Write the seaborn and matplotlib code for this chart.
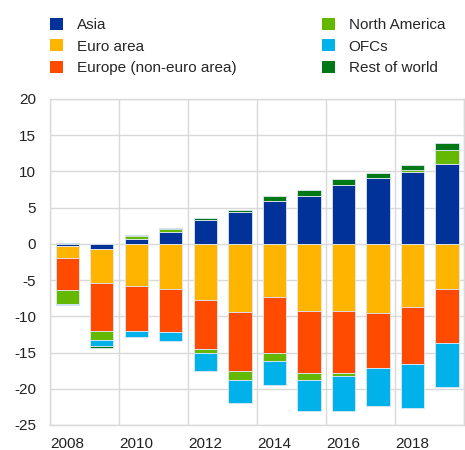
import numpy as np
import pandas as pd
import seaborn as sns
import matplotlib.pyplot as plt
from matplotlib.patches import Patch

years = [str(y) for y in range(2008, 2020)]
asia = [-0.3, -0.75, 0.65, 1.6, 3.35, 4.4, 5.95, 6.65, 8.1, 9.1, 9.95, 11.05]
euro_area = [-1.7, -4.7, -5.8, -6.25, -7.75, -9.35, -7.4, -9.3, -9.3, -9.5, -8.65, -6.2]
europe_non_euro = [-4.3, -6.6, -6.2, -5.85, -6.75, -8.15, -7.6, -8.55, -8.55, -7.65, -7.9, -7.5]
north_america = [-2.0, -1.15, 0.5, 0.4, -0.5, -1.3, -1.15, -0.95, -0.45, 0.0, 0.25, 1.9]
ofcs = [-0.15, -0.95, -0.8, -1.25, -2.6, -3.2, -3.3, -4.3, -4.8, -5.25, -6.05, -6.0]
rest_of_world = [0.15, -0.2, 0.05, 0.15, 0.25, 0.3, 0.7, 0.85, 0.85, 0.65, 0.65, 1.0]

series = {
    "Asia": asia,
    "Euro area": euro_area,
    "Europe (non-euro area)": europe_non_euro,
    "North America": north_america,
    "OFCs": ofcs,
    "Rest of world": rest_of_world,
}
colors = ["#003299", "#FFB400", "#FF4B00", "#65B800", "#00B1EA", "#007816"]

sns.set_theme(style="white")
plt.rcParams["font.family"] = ["Liberation Sans", "DejaVu Sans"]
plt.rcParams["axes.unicode_minus"] = False

fig, ax = plt.subplots(figsize=(4.65, 4.5), dpi=100)
fig.subplots_adjust(left=0.1075, right=0.998, top=0.78, bottom=0.0556)

# stack positives and negatives separately
pos = np.zeros(len(years))
neg = np.zeros(len(years))
for (name, vals), col in zip(series.items(), colors):
    v = np.array(vals)
    bottom = np.where(v >= 0, pos, neg)
    df = pd.DataFrame({"year": years, "value": v})
    sns.barplot(data=df, x="year", y="value", bottom=bottom, color=col,
                width=0.68, errorbar=None, edgecolor="#dfe7f5", linewidth=0.6,
                saturation=1, ax=ax, zorder=2)
    pos = pos + np.where(v >= 0, v, 0)
    neg = neg + np.where(v < 0, v, 0)

ax.set_xlim(-0.5, 11.5)
ax.set_ylim(-25, 20)
ax.set_yticks(range(-25, 21, 5))
ax.set_xticks(range(0, 12, 2))
ax.set_xticklabels(years[::2])
ax.set_xticks(np.arange(-0.5, 12, 2), minor=True)
ax.set_xlabel("")
ax.set_ylabel("")
ax.grid(axis="y", color="#d9d9d9", linewidth=1, zorder=0)
ax.grid(axis="x", which="minor", color="#d9d9d9", linewidth=1, zorder=0)
ax.grid(axis="x", which="major", visible=False)
for s in ax.spines.values():
    s.set_color("#d9d9d9")
    s.set_linewidth(1)
ax.tick_params(axis="both", which="both", length=0, labelsize=11, colors="#222222")
ax.tick_params(axis="y", pad=10)
ax.tick_params(axis="x", pad=9)

names = list(series.keys())
handles = [Patch(facecolor=c, edgecolor="none") for c in colors]
leg_kw = dict(frameon=False, fontsize=11, handlelength=0.85, handleheight=0.85,
              handletextpad=0.9, labelspacing=0.45, borderpad=0, borderaxespad=0,
              loc="upper left")
fig.legend(handles[:3], names[:3], bbox_to_anchor=(50 / 465, 1 - 18 / 450), **leg_kw)
fig.legend(handles[3:], names[3:], bbox_to_anchor=(322 / 465, 1 - 18 / 450), **leg_kw)

fig.savefig("out.png", dpi=100)
